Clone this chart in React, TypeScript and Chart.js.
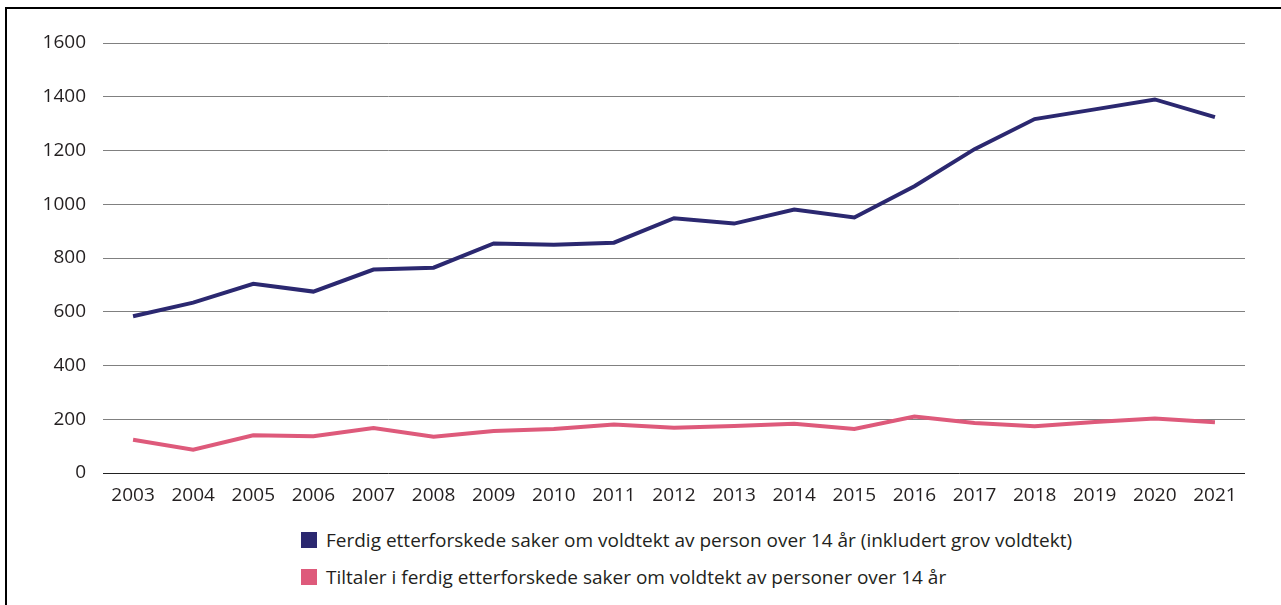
import React, { useEffect, useRef } from "react";
import { Chart, registerables } from "chart.js";

Chart.register(...registerables);

const years = [
  "2003", "2004", "2005", "2006", "2007", "2008", "2009", "2010", "2011", "2012",
  "2013", "2014", "2015", "2016", "2017", "2018", "2019", "2020", "2021",
];

const ferdigSaker = [
  583, 634, 704, 675, 757, 764, 854, 849, 857, 948,
  928, 980, 951, 1067, 1205, 1317, 1353, 1390, 1324,
];

const tiltaler = [
  124, 87, 140, 137, 167, 135, 156, 164, 180, 168,
  175, 183, 164, 210, 186, 174, 190, 203, 189,
];

const seriesLabels = [
  "Ferdig etterforskede saker om voldtekt av person over 14 år (inkludert grov voldtekt)",
  "Tiltaler i ferdig etterforskede saker om voldtekt av personer over 14 år",
];

const seriesColors = ["#2b2870", "#de5a7b"];

const yTicks = [0, 200, 400, 600, 800, 1000, 1200, 1400, 1600];

const FONT = "'Open Sans', 'Noto Sans', sans-serif";
const TEXT_COLOR = "#231f20";

export default function App() {
  const canvasRef = useRef<HTMLCanvasElement | null>(null);

  useEffect(() => {
    const canvas = canvasRef.current;
    if (!canvas) return;
    const chart = new Chart(canvas, {
      type: "line",
      data: {
        labels: years,
        datasets: [
          {
            label: seriesLabels[0],
            data: ferdigSaker,
            borderColor: seriesColors[0],
            backgroundColor: seriesColors[0],
            borderWidth: 4,
            pointRadius: 0,
            tension: 0,
          },
          {
            label: seriesLabels[1],
            data: tiltaler,
            borderColor: seriesColors[1],
            backgroundColor: seriesColors[1],
            borderWidth: 4,
            pointRadius: 0,
            tension: 0,
          },
        ],
      },
      options: {
        responsive: false,
        animation: false,
        maintainAspectRatio: false,
        layout: { padding: { top: 43, right: 36, left: 0, bottom: 0 } },
        plugins: {
          legend: { display: false },
          tooltip: { enabled: false },
        },
        scales: {
          x: {
            offset: true,
            grid: { display: false },
            border: { display: false },
            ticks: {
              color: TEXT_COLOR,
              font: { family: FONT, size: 19 },
              padding: 3,
              maxRotation: 0,
              autoSkip: false,
            },
            afterFit: (scale: any) => {
              scale.height = 37;
            },
          },
          y: {
            min: 0,
            max: 1600,
            grid: {
              drawTicks: false,
              lineWidth: 1,
              color: (ctx: any) => (ctx.tick && ctx.tick.value === 0 ? "#222222" : "#808080"),
            },
            border: { display: false },
            ticks: {
              color: TEXT_COLOR,
              font: { family: FONT, size: 19 },
              padding: 17,
              callback: (value: any) => String(value),
            },
            afterBuildTicks: (scale: any) => {
              scale.ticks = yTicks.map((v) => ({ value: v }));
            },
            afterFit: (scale: any) => {
              scale.width = 103;
            },
          },
        },
      },
    });
    return () => chart.destroy();
  }, []);

  return (
    <div
      style={{
        position: "fixed",
        left: 0,
        top: 0,
        width: 1281,
        height: 605,
        background: "#ffffff",
        overflow: "hidden",
      }}
    >
      <div
        style={{
          position: "absolute",
          left: 5,
          top: 7,
          width: 1300,
          height: 620,
          borderLeft: "2px solid #000",
          borderTop: "2px solid #000",
          boxSizing: "border-box",
        }}
      />
      <canvas
        ref={canvasRef}
        width={1281}
        height={510}
        style={{ position: "absolute", left: 0, top: 0, width: 1281, height: 510 }}
      />
      <div
        style={{
          position: "absolute",
          left: 301,
          top: 532,
          fontFamily: FONT,
          fontSize: 19,
          color: TEXT_COLOR,
        }}
      >
        {seriesLabels.map((lbl, i) => (
          <div
            key={lbl}
            style={{ display: "flex", alignItems: "center", height: 16, marginBottom: 21, whiteSpace: "nowrap" }}
          >
            <span
              style={{ display: "inline-block", width: 16, height: 16, background: seriesColors[i], marginRight: 9, flexShrink: 0 }}
            />
            <span>{lbl}</span>
          </div>
        ))}
      </div>
    </div>
  );
}
